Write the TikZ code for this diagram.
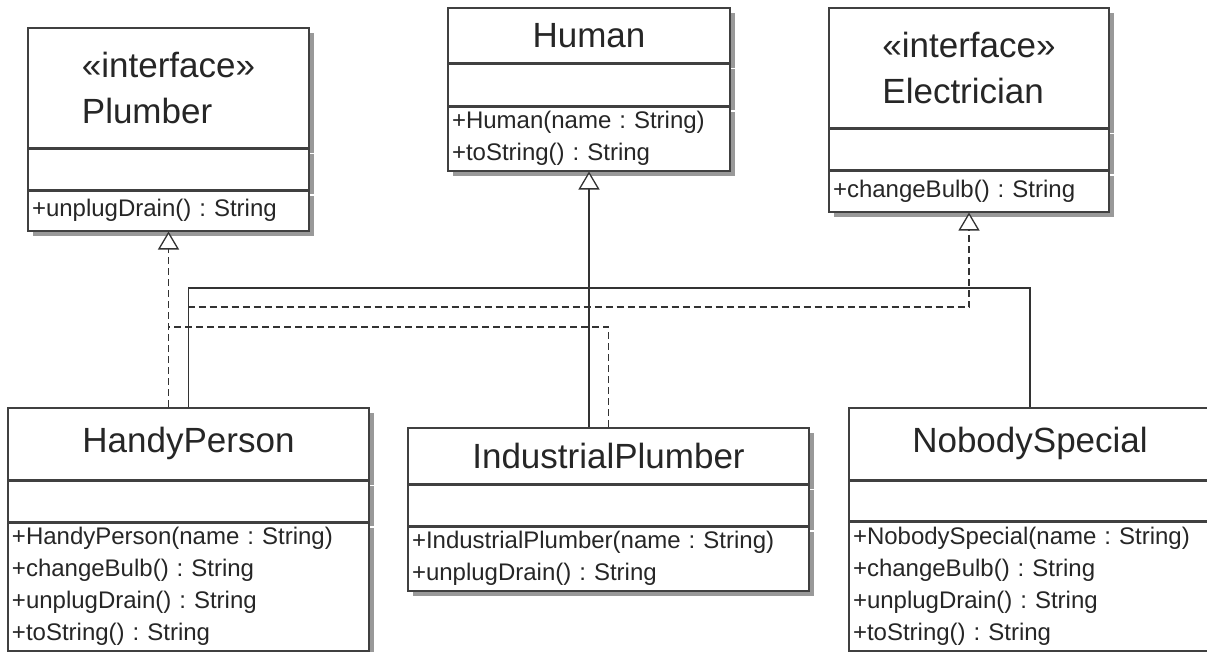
\documentclass[tikz,border=0pt]{standalone}
\usepackage{fontspec}
\setmainfont{Liberation Sans}
\frenchspacing
\usepackage{tikz}
\usetikzlibrary{shapes,arrows.meta,positioning,shadows}

\begin{document}
\begin{tikzpicture}[
    x=1pt, y=-1pt,
    box/.style={rectangle, draw=black!75, line width=1.5pt, fill=white, inner sep=0pt, anchor=north,
        text=black!85, drop shadow={shadow xshift=5pt, shadow yshift=-5pt, fill=black!40, opacity=1}},
    titlebox/.style={box, font=\fontsize{35}{46}\selectfont, align=left},
    attrbox/.style={box, minimum height=40},
    opsbox/.style={box, font=\fontsize{24}{32}\selectfont, align=left, inner xsep=4pt},
    line/.style={draw=black!80, line width=1.3pt},
    gen/.style={line, -{Triangle[fill=white, length=18pt, width=21pt]}},
    real/.style={line, dash pattern=on 7pt off 4pt},
    realarrow/.style={real, -{Triangle[fill=white, length=18pt, width=21pt]}}
]
    \useasboundingbox (0,0) rectangle (1207,651);

    % interfaces and base class
    \node [titlebox, minimum width=281, minimum height=120] (plumber) at (168.5,27) {«interface»\\Plumber};
    \node [attrbox, minimum width=281, below=0pt of plumber] (plumberattr) {};
    \node [opsbox, text width=273, minimum height=40, below=0pt of plumberattr] (plumberops) {+unplugDrain() : String};

    \node [titlebox, minimum width=282, minimum height=55] (human) at (589,7) {Human};
    \node [attrbox, minimum width=282, minimum height=41, below=0pt of human] (humanattr) {};
    \node [opsbox, text width=274, minimum height=64, below=0pt of humanattr] (humanops) {+Human(name : String)\\+toString() : String};

    \node [titlebox, minimum width=280, minimum height=120] (elec) at (969,7) {«interface»\\Electrician};
    \node [attrbox, minimum width=280, below=0pt of elec] (elecattr) {};
    \node [opsbox, text width=272, minimum height=41, below=0pt of elecattr] (elecops) {+changeBulb() : String};

    % concrete classes
    \node [titlebox, minimum width=361, minimum height=72] (handy) at (188.5,407) {HandyPerson};
    \node [attrbox, minimum width=361, below=0pt of handy] (handyattr) {};
    \node [opsbox, text width=353, minimum height=128, below=0pt of handyattr] (handyops)
        {+HandyPerson(name : String)\\+changeBulb() : String\\+unplugDrain() : String\\+toString() : String};

    \node [titlebox, minimum width=401, minimum height=56] (ind) at (608.5,427) {IndustrialPlumber};
    \node [attrbox, minimum width=401, below=0pt of ind] (indattr) {};
    \node [opsbox, text width=393, minimum height=64, below=0pt of indattr] (indops)
        {+IndustrialPlumber(name : String)\\+unplugDrain() : String};

    \node [titlebox, minimum width=362, minimum height=72] (nobody) at (1030,407) {NobodySpecial};
    \node [attrbox, minimum width=362, minimum height=39, below=0pt of nobody] (nobodyattr) {};
    \node [opsbox, text width=354, minimum height=129, below=0pt of nobodyattr] (nobodyops)
        {+NobodySpecial(name : String)\\+changeBulb() : String\\+unplugDrain() : String\\+toString() : String};

    % bends of the connectors
    \coordinate (genbar) at (0,288);
    \coordinate (realE) at (0,307);
    \coordinate (realP) at (0,327);

    % generalization
    \draw [line] (handy.north) |- (genbar -| nobody.north) -- (nobody.north);
    \draw [gen] (ind.north -| humanops.south) -- (humanops.south);

    % realization
    \draw [realarrow] (handy.north -| plumberops.south) -- (plumberops.south);
    \draw [realarrow] (handy.north) |- (realE -| elecops.south) -- (elecops.south);
    \draw [real] (ind.north) |- (realP -| plumberops.south);

\end{tikzpicture}
\end{document}
